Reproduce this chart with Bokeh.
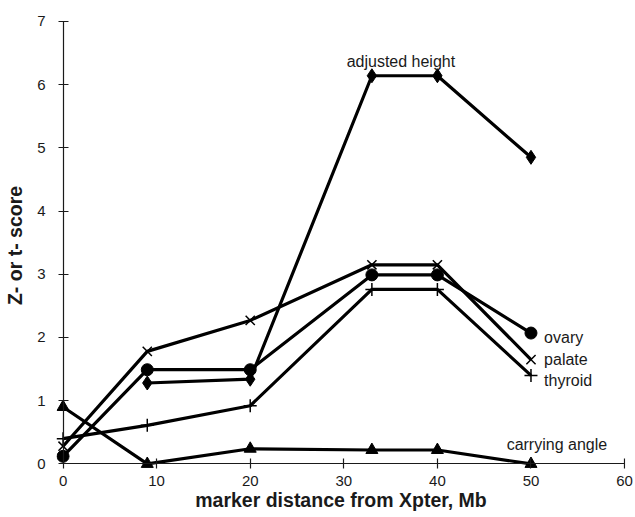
from bokeh.plotting import figure
from bokeh.models import Range1d, LinearAxis, FixedTicker
from bokeh.core.properties import value
from bokeh.embed import file_html
from bokeh.resources import INLINE

# Data (marker distance from Xpter, Mb)
x_all = [0, 9, 20, 33, 40, 50]
x_height = [9, 20, 33, 40, 50]
adjusted_height = [1.28, 1.34, 6.14, 6.14, 4.85]
ovary = [0.12, 1.49, 1.49, 2.99, 2.99, 2.07]
palate = [0.28, 1.78, 2.27, 3.15, 3.15, 1.65]
thyroid = [0.40, 0.61, 0.92, 2.76, 2.76, 1.40]
carrying_angle = [0.90, 0.0, 0.24, 0.22, 0.22, 0.0]

x_ticks = [0, 10, 20, 30, 40, 50, 60]
y_ticks = [0, 1, 2, 3, 4, 5, 6, 7]

FONT = "Liberation Sans"
INK = "#1a1a1a"

p = figure(width=633, height=515, output_backend="svg", toolbar_location=None,
           x_range=Range1d(-0.7, 60.1), y_range=Range1d(-0.12, 7.03),
           x_axis_type=None, y_axis_type=None,
           min_border_left=56, min_border_right=8, min_border_top=19, min_border_bottom=44)
p.grid.visible = False
p.outline_line_color = None
p.background_fill_color = "white"

# label/title axes (no lines)
xlab = LinearAxis(ticker=FixedTicker(ticks=x_ticks), axis_label="marker distance from Xpter, Mb")
ylab = LinearAxis(ticker=FixedTicker(ticks=y_ticks), axis_label="Z- or t- score")
for ax in (xlab, ylab):
    ax.axis_line_color = None
    ax.major_tick_line_color = None
    ax.minor_tick_line_color = None
    ax.major_tick_in = 0
    ax.major_tick_out = 0
    ax.major_label_text_font = FONT
    ax.major_label_text_font_size = "15px"
    ax.major_label_text_color = INK
    ax.axis_label_text_font = FONT
    ax.axis_label_text_font_style = "bold"
    ax.axis_label_text_font_size = "19.5px"
    ax.axis_label_text_color = INK
xlab.major_label_standoff = 4
xlab.axis_label_standoff = 0
ylab.major_label_standoff = 11
ylab.axis_label_standoff = 8
p.add_layout(xlab, "below")
p.add_layout(ylab, "left")

# axis lines crossing at the origin
xline = LinearAxis(fixed_location=0, bounds=(0, 60), ticker=FixedTicker(ticks=x_ticks))
yline = LinearAxis(fixed_location=0, bounds=(0, 7), ticker=FixedTicker(ticks=y_ticks))
for ax in (xline, yline):
    ax.axis_line_color = INK
    ax.axis_line_width = 1.2
    ax.major_tick_line_color = INK
    ax.major_tick_line_width = 1.2
    ax.major_tick_in = 5
    ax.major_tick_out = 5
    ax.minor_tick_line_color = None
    ax.major_label_text_font_size = "0px"
    ax.major_label_text_color = None
    ax.major_label_standoff = 0
p.add_layout(xline, "above")
p.add_layout(yline, "right")

LW = 3.2
C = "black"
# adjusted height (diamonds)
p.line(x_height, adjusted_height, line_width=LW, color=C)
p.scatter(x_height, adjusted_height, marker="diamond", size=14, color=C)
# ovary (circles)
p.line(x_all, ovary, line_width=LW, color=C)
p.scatter(x_all, ovary, marker="circle", size=12, color=C)
# palate (x)
p.line(x_all, palate, line_width=LW, color=C)
p.scatter(x_all, palate, marker="x", size=13, line_width=1.5, color=C)
# thyroid (+)
p.line(x_all, thyroid, line_width=LW, color=C)
p.scatter(x_all, thyroid, marker="cross", size=13, line_width=1.5, color=C)
# carrying angle (triangles)
p.line(x_all, carrying_angle, line_width=LW, color=C)
p.scatter(x_all, carrying_angle, marker="triangle", size=12, color=C)

labels = ["adjusted height", "ovary", "palate", "thyroid", "carrying angle"]
lx = [36.1, 51.4, 51.4, 51.4, 47.4]
ly = [6.37, 2.0, 1.65, 1.32, 0.30]
aligns = ["center", "left", "left", "left", "left"]
for t, x, y, a in zip(labels, lx, ly, aligns):
    p.text([x], [y], text=[t], text_font=value(FONT), text_font_size="16px",
           text_align=a, text_baseline="middle", text_color=INK)

open("out.html", "w").write(file_html(p, INLINE))
